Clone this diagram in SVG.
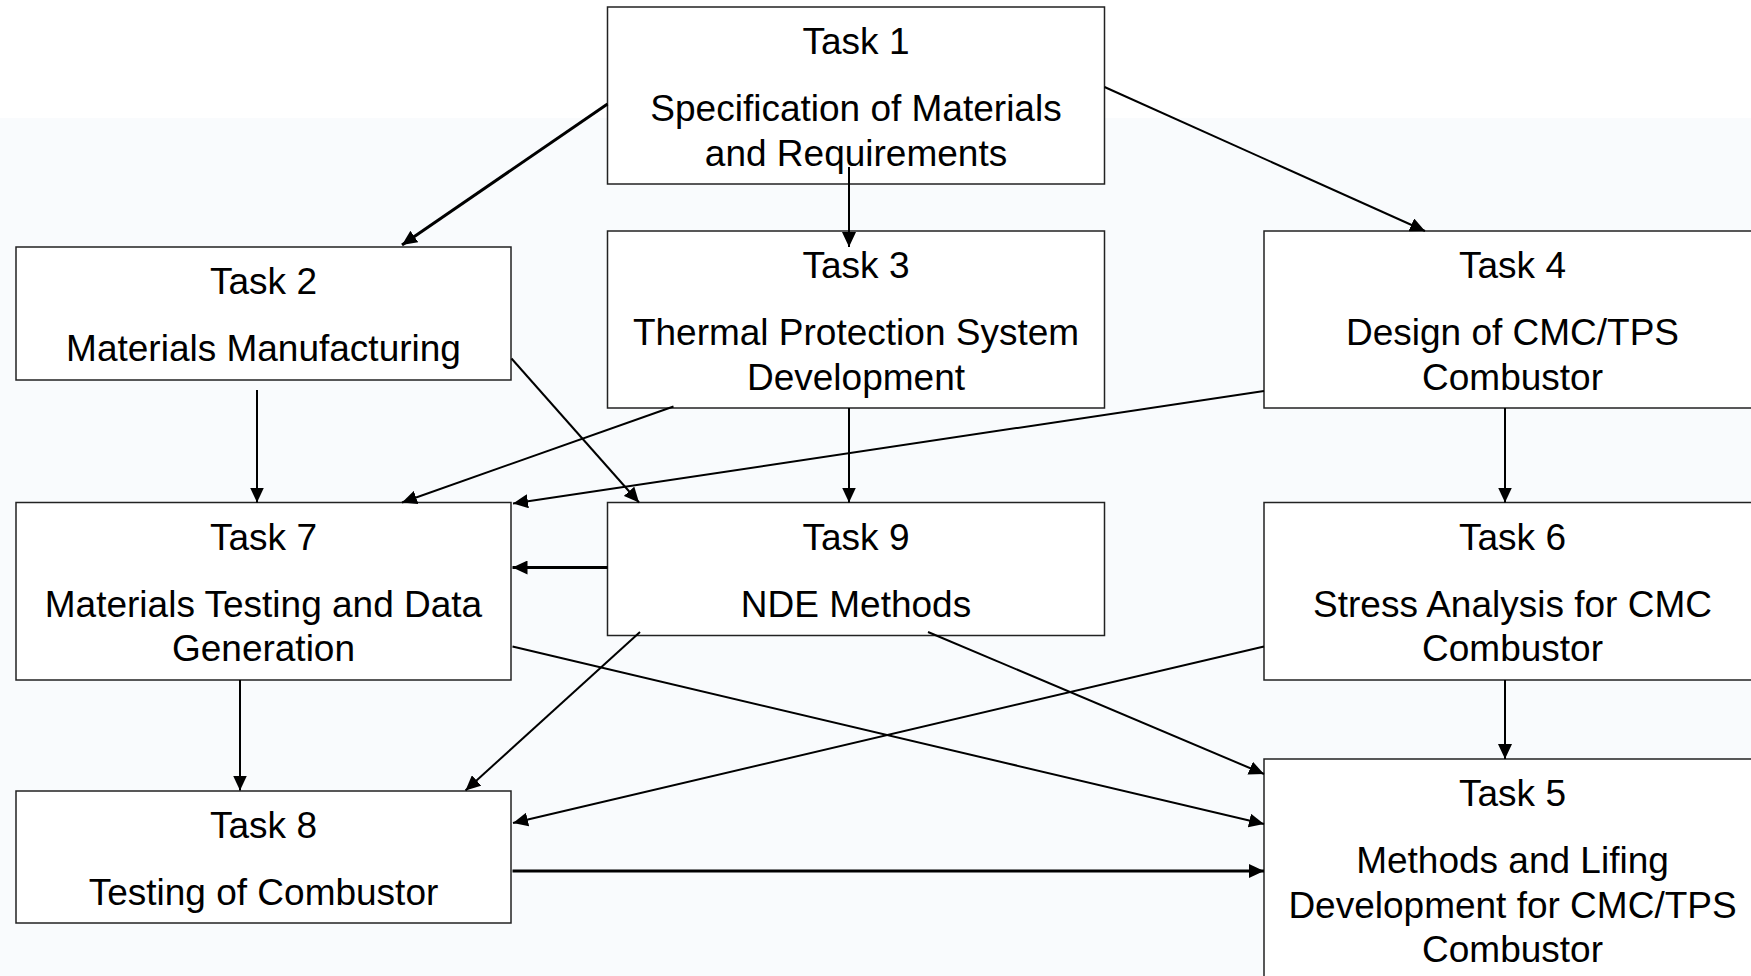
<svg xmlns="http://www.w3.org/2000/svg" width="1751" height="976" viewBox="0 0 1751 976">
<defs>
<style>
.box{fill:#ffffff;stroke:#222;stroke-width:1.5}
.t{font-family:"Liberation Sans",Arial,sans-serif;font-size:37px;fill:#000;text-anchor:middle}
.c{fill:none;stroke:#000;stroke-width:2;marker-end:url(#ah)}
.ck{stroke-width:3}
</style>
<marker id="ah" markerUnits="userSpaceOnUse" markerWidth="16" markerHeight="14" refX="15" refY="7" orient="auto">
<path d="M0,0 L15,7 L0,14 Z" fill="#000"/>
</marker>
</defs>
<rect x="0" y="0" width="1751" height="118" fill="#ffffff"/>
<rect x="0" y="118" width="1751" height="858" fill="#f9fbfd"/>
<g id="task1"><rect class="box" x="607.5" y="7" width="497" height="177"/>
<text class="t" x="856" y="54">Task 1</text><text class="t" x="856" y="121">Specification of Materials</text><text class="t" x="856" y="165.7">and Requirements</text></g>
<g id="task2"><rect class="box" x="16" y="247" width="495" height="133"/>
<text class="t" x="263.5" y="294">Task 2</text><text class="t" x="263.5" y="361">Materials Manufacturing</text></g>
<g id="task3"><rect class="box" x="607.5" y="231" width="497" height="177"/>
<text class="t" x="856" y="278">Task 3</text><text class="t" x="856" y="345">Thermal Protection System</text><text class="t" x="856" y="389.7">Development</text></g>
<g id="task4"><rect class="box" x="1264" y="231" width="497" height="177"/>
<text class="t" x="1512.5" y="278">Task 4</text><text class="t" x="1512.5" y="345">Design of CMC/TPS</text><text class="t" x="1512.5" y="389.7">Combustor</text></g>
<g id="task7"><rect class="box" x="16" y="502.5" width="495" height="177.5"/>
<text class="t" x="263.5" y="549.5">Task 7</text><text class="t" x="263.5" y="616.5">Materials Testing and Data</text><text class="t" x="263.5" y="661">Generation</text></g>
<g id="task9"><rect class="box" x="607.5" y="502.5" width="497" height="133"/>
<text class="t" x="856" y="549.5">Task 9</text><text class="t" x="856" y="616.5">NDE Methods</text></g>
<g id="task6"><rect class="box" x="1264" y="502.5" width="497" height="177.5"/>
<text class="t" x="1512.5" y="549.5">Task 6</text><text class="t" x="1512.5" y="616.5">Stress Analysis for CMC</text><text class="t" x="1512.5" y="661">Combustor</text></g>
<g id="task8"><rect class="box" x="16" y="791" width="495" height="132"/>
<text class="t" x="263.5" y="838">Task 8</text><text class="t" x="263.5" y="905">Testing of Combustor</text></g>
<g id="task5"><rect class="box" x="1264" y="759" width="497" height="240"/>
<text class="t" x="1512.5" y="806">Task 5</text><text class="t" x="1512.5" y="873">Methods and Lifing</text><text class="t" x="1512.5" y="917.7">Development for CMC/TPS</text><text class="t" x="1512.5" y="962.4">Combustor</text></g>
<g id="connectors">
<line class="c ck" x1="607.5" y1="104" x2="402" y2="245"/>
<line class="c" x1="849" y1="167" x2="849" y2="247"/>
<line class="c" x1="1104.5" y1="87" x2="1425" y2="231"/>
<line class="c" x1="257" y1="390" x2="257" y2="502.5"/>
<line class="c" x1="511.5" y1="358.5" x2="639" y2="502.5"/>
<line class="c" x1="673.5" y1="406.5" x2="402" y2="502.5"/>
<line class="c" x1="849" y1="408" x2="849" y2="502.5"/>
<line class="c" x1="1264" y1="391" x2="513" y2="503.5"/>
<line class="c" x1="1505" y1="408" x2="1505" y2="502.5"/>
<line class="c ck" x1="607.5" y1="567.5" x2="512.5" y2="567.5"/>
<line class="c" x1="640" y1="632" x2="465.5" y2="790.5"/>
<line class="c" x1="928" y1="632" x2="1264" y2="774"/>
<line class="c" x1="512.5" y1="646.5" x2="1264" y2="824"/>
<line class="c" x1="240" y1="680" x2="240" y2="790.5"/>
<line class="c" x1="1264" y1="646.5" x2="513" y2="823"/>
<line class="c" x1="1505" y1="680" x2="1505" y2="759"/>
<line class="c ck" x1="512.5" y1="871" x2="1264" y2="871"/>
</g>
</svg>
